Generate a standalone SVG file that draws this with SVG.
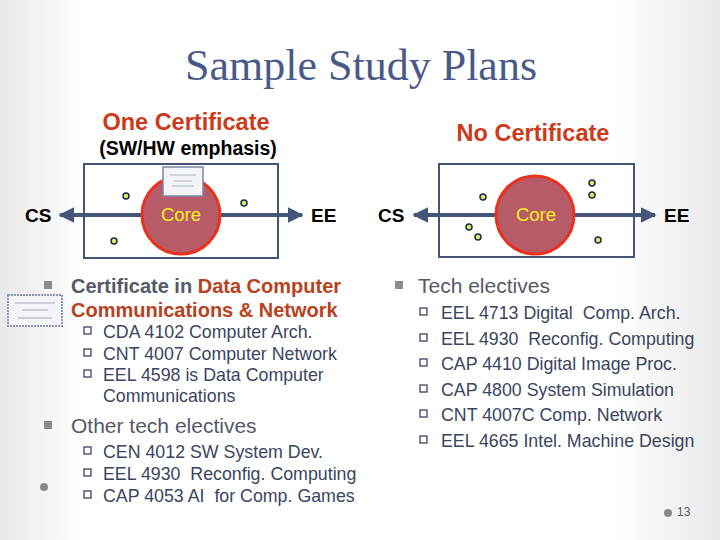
<svg xmlns="http://www.w3.org/2000/svg" width="720" height="540" viewBox="0 0 720 540">
<defs>
<linearGradient id="bg" x1="0" y1="0" x2="1" y2="0"><stop offset="0" stop-color="#e9e9e9"/><stop offset="0.12" stop-color="#fff"/><stop offset="0.85" stop-color="#fff"/><stop offset="1" stop-color="#e9e9e9"/></linearGradient>
<marker id="ah" viewBox="0 0 10 10" refX="9" refY="5" markerWidth="4" markerHeight="4" orient="auto"><path d="M0,0L10,5L0,10z" fill="#45557a"/></marker>
<style>
text{font-family:"Liberation Sans",Arial,sans-serif;white-space:pre}
.box{fill:#fff;stroke:#45557a;stroke-width:2}
.core{fill:#b85b68;stroke:#e8321e;stroke-width:3}
.ax{stroke:#45557a;stroke-width:4;marker-end:url(#ah)}
.dot{fill:#d6ef5a;stroke:#1c2a55;stroke-width:1.5}
.ct{fill:#ffee22;font-size:18.5px;text-anchor:middle}
.lbl{font-size:19px;font-weight:bold;fill:#000}
.b1{font-size:20px;font-weight:bold;fill:#555a66}
.red{fill:#b8421e}
.sub{font-size:17.8px;fill:#3b4560}
.q{fill:none;stroke:#3b4560;stroke-width:1.3}
.sq{fill:#8c8c8c}
</style>
</defs>
<rect width="720" height="540" fill="url(#bg)"/>
<text x="361" y="80" text-anchor="middle" style="font-family:'Liberation Serif',serif;font-size:44px;fill:#4a5a88">Sample Study Plans</text>
<text x="186" y="130" text-anchor="middle" style="font-size:23.5px;font-weight:bold;fill:#cc3a1a">One Certificate</text>
<text x="188" y="155" text-anchor="middle" style="font-size:19.5px;font-weight:bold;fill:#000">(SW/HW emphasis)</text>
<text x="533" y="141" text-anchor="middle" style="font-size:23.5px;font-weight:bold;fill:#cc3a1a">No Certificate</text>
<g id="plan-left">
<rect class="box" x="84" y="164" width="194" height="94"/>
<g id="connectors-left"><line class="ax" x1="150" y1="215" x2="60" y2="215"/><line class="ax" x1="212" y1="215" x2="302" y2="215"/></g>
<circle class="core" cx="181" cy="215" r="39"/>
<text class="ct" x="181" y="221">Core</text>
<rect x="163" y="167" width="40" height="29" fill="#f4f4f8" stroke="#7a86a8" stroke-width="1.5"/>
<line x1="170" y1="175" x2="196" y2="175" stroke="#9aa" stroke-width="0.8"/><line x1="174" y1="181" x2="192" y2="181" stroke="#9aa" stroke-width="0.8"/><line x1="172" y1="186" x2="194" y2="186" stroke="#9aa" stroke-width="0.8"/>
<circle class="dot" cx="126" cy="196" r="3"/><circle class="dot" cx="244" cy="203" r="3"/><circle class="dot" cx="114" cy="241" r="3"/>
<text class="lbl" x="25" y="222">CS</text><text class="lbl" x="311" y="222">EE</text>
</g>
<g id="plan-right">
<rect class="box" x="439" y="164" width="195" height="93"/>
<g id="connectors-right"><line class="ax" x1="500" y1="215" x2="414" y2="215"/><line class="ax" x1="570" y1="215" x2="655" y2="215"/></g>
<circle class="core" cx="535" cy="215" r="39"/>
<text class="ct" x="536" y="221">Core</text>
<circle class="dot" cx="483" cy="197" r="3"/><circle class="dot" cx="592" cy="183" r="3"/><circle class="dot" cx="592" cy="195" r="3"/><circle class="dot" cx="469" cy="227" r="3"/><circle class="dot" cx="478" cy="237" r="3"/><circle class="dot" cx="598" cy="240" r="3"/>
<text class="lbl" x="378" y="222">CS</text><text class="lbl" x="664" y="222">EE</text>
</g>
<g id="cert-icon">
<rect x="8" y="295" width="54" height="31" fill="#f4f4f8" stroke="#8a96b8" stroke-width="2" stroke-dasharray="2 1"/>
<line x1="15" y1="303" x2="55" y2="303" stroke="#99a" stroke-width="0.8"/><line x1="22" y1="310" x2="48" y2="310" stroke="#99a" stroke-width="0.8"/><line x1="18" y1="318" x2="52" y2="318" stroke="#99a" stroke-width="0.8"/>
</g>
<g id="list-left">
<rect class="sq" x="44" y="281" width="8" height="8"/>
<text class="b1" x="71" y="293">Certificate in <tspan class="red">Data Computer</tspan></text>
<text class="b1 red" x="71" y="317">Communications &amp; Network</text>
<rect class="q" x="84" y="327" width="7" height="7"/><text class="sub" x="103" y="338">CDA 4102 Computer Arch.</text>
<rect class="q" x="84" y="349" width="7" height="7"/><text class="sub" x="103" y="360">CNT 4007 Computer Network</text>
<rect class="q" x="84" y="370" width="7" height="7"/><text class="sub" x="103" y="381">EEL 4598 is Data Computer</text>
<text class="sub" x="103" y="402">Communications</text>
<rect class="sq" x="44" y="421" width="8" height="8"/>
<text x="71" y="433" style="font-size:21px;fill:#555a66">Other tech electives</text>
<rect class="q" x="84" y="447" width="7" height="7"/><text class="sub" x="103" y="458">CEN 4012 SW System Dev.</text>
<rect class="q" x="84" y="469" width="7" height="7"/><text class="sub" x="103" y="480">EEL 4930  Reconfig. Computing</text>
<rect class="q" x="84" y="491" width="7" height="7"/><text class="sub" x="103" y="502">CAP 4053 AI  for Comp. Games</text>
</g>
<g id="list-right">
<rect class="sq" x="395" y="281" width="8" height="8"/>
<text x="418" y="293" style="font-size:21px;fill:#555a66">Tech electives</text>
<rect class="q" x="420" y="308" width="7" height="7"/><text class="sub" x="441" y="319">EEL 4713 Digital  Comp. Arch.</text>
<rect class="q" x="420" y="334" width="7" height="7"/><text class="sub" x="441" y="345">EEL 4930  Reconfig. Computing</text>
<rect class="q" x="420" y="359" width="7" height="7"/><text class="sub" x="441" y="370">CAP 4410 Digital Image Proc.</text>
<rect class="q" x="420" y="385" width="7" height="7"/><text class="sub" x="441" y="396">CAP 4800 System Simulation</text>
<rect class="q" x="420" y="410" width="7" height="7"/><text class="sub" x="441" y="421">CNT 4007C Comp. Network</text>
<rect class="q" x="420" y="436" width="7" height="7"/><text class="sub" x="441" y="447">EEL 4665 Intel. Machine Design</text>
</g>
<circle cx="44" cy="487" r="4" fill="#888"/>
<circle cx="668" cy="513" r="4" fill="#888"/>
<text x="677" y="516" style="font-size:12px;fill:#555a66">13</text>
</svg>
